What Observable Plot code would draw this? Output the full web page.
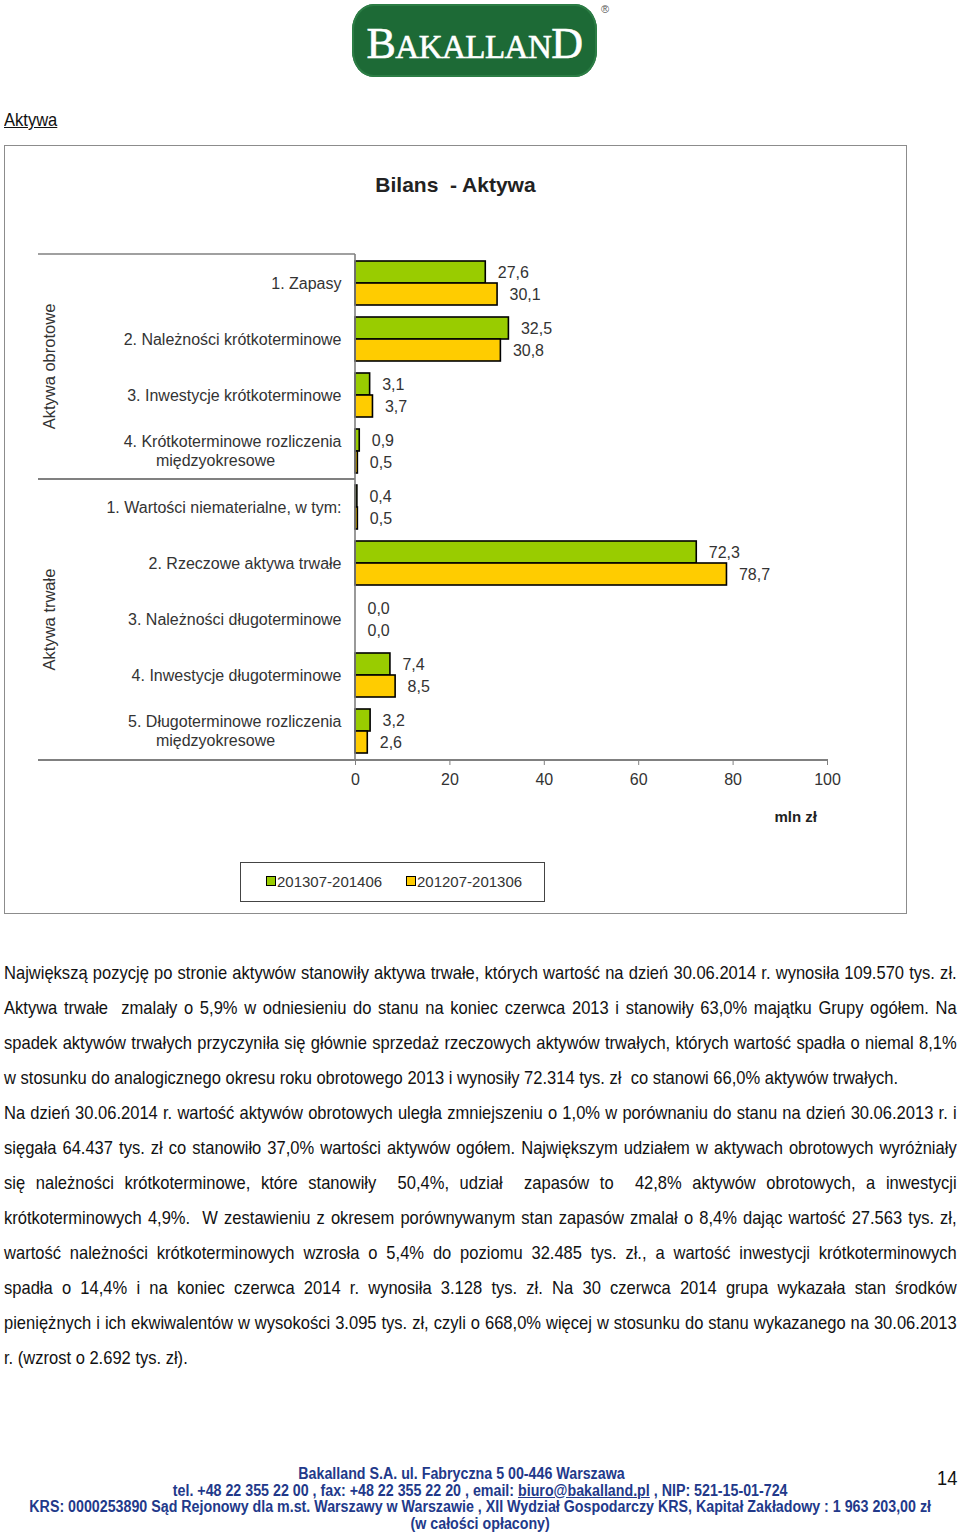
<!DOCTYPE html>
<html>
<head>
<meta charset="utf-8">
<script src="https://cdn.jsdelivr.net/npm/d3@7"></script>
<script src="https://cdn.jsdelivr.net/npm/@observablehq/plot@0.6"></script>
<style>
  body { margin: 0; background: #fff; }
  #page { position: relative; width: 960px; height: 1539px; overflow: hidden; font-family: "Liberation Sans", Arial, sans-serif; color: #111; }
  #logo { position: absolute; left: 352px; top: 4px; width: 245px; height: 73px; background: #1d6a36; border-radius: 22px / 26px; box-shadow: inset 0 0 0 2px #2c7d45; }
  #logo .word { position: absolute; left: 0; right: 0; top: 14px; text-align: center; color: #fff; font-family: "Liberation Serif", "DejaVu Serif", serif; white-space: nowrap; letter-spacing: -0.5px; -webkit-text-stroke: 0.6px #fff; }
  #logo .big { font-size: 44px; }
  #logo .small { font-size: 33px; }
  #reg { position: absolute; left: 601px; top: 3px; font-size: 11px; color: #555; }
  .narrow { transform: scaleX(0.87); transform-origin: 0 0; }
  #heading { position: absolute; left: 4px; top: 109px; font-size: 19px; text-decoration: underline; color: #111; }
  #panel { position: absolute; left: 4px; top: 145px; width: 901px; height: 767px; border: 1px solid #8c8c8c; }
  #ctitle { position: absolute; left: 0; right: 0; top: 27px; text-align: center; font-weight: bold; font-size: 21px; color: #222; white-space: pre; }
  #chart { position: absolute; left: 0px; top: 84px; }
  #legend { position: absolute; left: 235px; top: 716px; width: 303px; height: 38px; border: 1px solid #444; font-size: 15px; color: #333; }
  #legend .item { position: absolute; top: 10px; white-space: nowrap; }
  #legend .sw { display: inline-block; width: 8px; height: 8px; border: 1px solid #000; margin-right: 1px; vertical-align: 1px; }
  #body { position: absolute; left: 4px; top: 955px; width: 1095px; font-size: 19px; color: #111; }
  #body .ln { height: 35px; line-height: 35px; white-space: nowrap; }
  #body .j { text-align: justify; text-align-last: justify; }
  #footer { position: absolute; left: 0; width: 1079px; top: 1466px; text-align: center; font-weight: bold; font-size: 16px; line-height: 16.6px; color: #22398a; transform: scaleX(0.89); transform-origin: 0 0; }
  #pnum { position: absolute; left: 937px; top: 1466px; font-size: 21px; color: #111; }
</style>
</head>
<body>
<div id="page">
  <div id="logo"><div class="word"><span class="big">B</span><span class="small">AKALLAN</span><span class="big">D</span></div></div>
  <div id="reg">®</div>
  <div id="heading" class="narrow">Aktywa</div>
  <div id="panel">
    <div id="ctitle">Bilans  - Aktywa</div>
    <div id="chart"></div>
    <div id="legend"></div>
  </div>
  <div id="body" class="narrow">
    <div class="ln j">Największą pozycję po stronie aktywów stanowiły aktywa trwałe, których wartość na dzień 30.06.2014 r. wynosiła 109.570 tys. zł.</div>
    <div class="ln j">Aktywa trwałe&nbsp; zmalały o 5,9% w odniesieniu do stanu na koniec czerwca 2013 i stanowiły 63,0% majątku Grupy ogółem. Na</div>
    <div class="ln j">spadek aktywów trwałych przyczyniła się głównie sprzedaż rzeczowych aktywów trwałych, których wartość spadła o niemal 8,1%</div>
    <div class="ln">w stosunku do analogicznego okresu roku obrotowego 2013 i wynosiły 72.314 tys. zł&nbsp; co stanowi 66,0% aktywów trwałych.</div>
    <div class="ln j">Na dzień 30.06.2014 r. wartość aktywów obrotowych uległa zmniejszeniu o 1,0% w porównaniu do stanu na dzień 30.06.2013 r. i</div>
    <div class="ln j">sięgała 64.437 tys. zł co stanowiło 37,0% wartości aktywów ogółem. Największym udziałem w aktywach obrotowych wyróżniały</div>
    <div class="ln j">się należności krótkoterminowe, które stanowiły&nbsp; 50,4%, udział&nbsp; zapasów to&nbsp; 42,8% aktywów obrotowych, a inwestycji</div>
    <div class="ln j">krótkoterminowych 4,9%.&nbsp; W zestawieniu z okresem porównywanym stan zapasów zmalał o 8,4% dając wartość 27.563 tys. zł,</div>
    <div class="ln j">wartość należności krótkoterminowych wzrosła o 5,4% do poziomu 32.485 tys. zł., a wartość inwestycji krótkoterminowych</div>
    <div class="ln j">spadła o 14,4% i na koniec czerwca 2014 r. wynosiła 3.128 tys. zł. Na 30 czerwca 2014 grupa wykazała stan środków</div>
    <div class="ln j">pieniężnych i ich ekwiwalentów w wysokości 3.095 tys. zł, czyli o 668,0% więcej w stosunku do stanu wykazanego na 30.06.2013</div>
    <div class="ln">r. (wzrost o 2.692 tys. zł).</div>
  </div>
  <div id="footer">
    <div style="padding-right:42px">Bakalland S.A. ul. Fabryczna 5 00-446 Warszawa</div>
    <div>tel. +48 22 355 22 00 , fax: +48 22 355 22 20 , email: <u>biuro@bakalland.pl</u> , NIP: 521-15-01-724</div>
    <div>KRS: 0000253890 Sąd Rejonowy dla m.st. Warszawy w Warszawie , XII Wydział Gospodarczy KRS, Kapitał Zakładowy : 1 963 203,00 zł</div>
    <div>(w całości opłacony)</div>
  </div>
  <div id="pnum" class="narrow">14</div>
</div>
<script>
// ---- data ----
const groups = ["Aktywa obrotowe", "Aktywa trwałe"];
const categories = [
  "1. Zapasy",
  "2. Należności krótkoterminowe",
  "3. Inwestycje krótkoterminowe",
  "4. Krótkoterminowe rozliczenia\nmiędzyokresowe",
  "1. Wartości niematerialne, w tym:",
  "2. Rzeczowe aktywa trwałe",
  "3. Należności długoterminowe",
  "4. Inwestycje długoterminowe",
  "5. Długoterminowe rozliczenia\nmiędzyokresowe"
];
const categoryGroup = [0, 0, 0, 0, 1, 1, 1, 1, 1];
const series = ["201307-201406", "201207-201306"];
const valuesCurrent = [27.6, 32.5, 3.1, 0.9, 0.4, 72.3, 0.0, 7.4, 3.2];
const valuesPrevious = [30.1, 30.8, 3.7, 0.5, 0.5, 78.7, 0.0, 8.5, 2.6];
const seriesColors = ["#99cc00", "#ffcc00"];
const xTicks = [0, 20, 40, 60, 80, 100];
const xUnit = "mln zł";

// ---- build ----
const rows = [];
categories.forEach((c, i) => {
  rows.push({cat: c, s: series[0], v: valuesCurrent[i]});
  rows.push({cat: c, s: series[1], v: valuesPrevious[i]});
});
const labelRows = categories.map(c => { const [l1, l2] = c.split("\n"); return {cat: c, l1, l2}; });
const fmt = v => v.toFixed(1).replace(".", ",");
const font = "'Liberation Sans', Arial, sans-serif";
const fs = 16;

const chart = Plot.plot({
  width: 900, height: 610,
  marginLeft: 350, marginRight: 78, marginTop: 24, marginBottom: 80,
  style: {fontFamily: font, fontSize: fs + "px", color: "#333", background: "transparent", overflow: "visible"},
  x: {domain: [0, 100]},
  y: {domain: series, padding: 0, axis: null},
  fy: {domain: categories, paddingInner: 0.22, paddingOuter: 0.11, axis: null},
  color: {domain: series, range: seriesColors},
  marks: [
    Plot.barX(rows, {fy: "cat", y: "s", x: "v", fill: "s", stroke: "#000", strokeWidth: 1.6}),
    Plot.text(rows, {fy: "cat", y: "s", x: "v", text: d => fmt(d.v), dx: 12, textAnchor: "start", fill: "#333", fontSize: fs}),
    Plot.text(labelRows.filter(d => !d.l2), {fy: "cat", text: "l1", frameAnchor: "left", dx: -14, textAnchor: "end", fill: "#333", fontSize: fs}),
    Plot.text(labelRows.filter(d => d.l2), {fy: "cat", text: "l1", frameAnchor: "left", dx: -14, dy: -10, textAnchor: "end", fill: "#333", fontSize: fs}),
    Plot.text(labelRows.filter(d => d.l2), {fy: "cat", text: "l2", frameAnchor: "left", dx: -140, dy: 9, textAnchor: "middle", fill: "#333", fontSize: fs}),
    Plot.axisX({ticks: xTicks, tickSize: 6, tickPadding: 8, dy: 6, stroke: "#808080", fill: "#333", fontSize: fs, label: null})
  ]
});
document.getElementById("chart").appendChild(chart);

// ---- structural lines, group labels and unit, from Plot's scales ----
const svg = d3.select(chart);
const fyS = chart.scale("fy"), xS = chart.scale("x");
const yTop = fyS.range[0], yBottom = fyS.range[1];
const bw = fyS.bandwidth;
const lastOf0 = categories[categoryGroup.lastIndexOf(0)];
const firstOf1 = categories[categoryGroup.indexOf(1)];
const yMid = (fyS.apply(lastOf0) + bw + fyS.apply(firstOf1)) / 2;
const x0 = xS.apply(0), x100 = xS.apply(100), leftX = 33;
const g = svg.append("g").attr("stroke", "#808080").attr("fill", "none");
g.append("line").attr("x1", leftX).attr("x2", x0).attr("y1", yTop).attr("y2", yTop).attr("stroke-width", 1.6);
g.append("line").attr("x1", leftX).attr("x2", x0).attr("y1", yMid).attr("y2", yMid).attr("stroke-width", 2);
g.append("line").attr("x1", leftX).attr("x2", x100).attr("y1", yBottom).attr("y2", yBottom).attr("stroke-width", 2);
g.append("line").attr("x1", x0).attr("x2", x0).attr("y1", yTop).attr("y2", yBottom).attr("stroke-width", 1.6);
const gcent = [(yTop + yMid) / 2, (yMid + yBottom) / 2];
groups.forEach((name, i) => {
  svg.append("text").attr("transform", `translate(44,${gcent[i]}) rotate(-90)`)
    .attr("text-anchor", "middle").attr("dy", "0.35em").attr("fill", "#333")
    .style("font-family", font).style("font-size", "16.5px").text(name);
});
svg.append("text").attr("x", x100 - 10).attr("y", yBottom + 57).attr("dy", "0.35em")
  .attr("text-anchor", "end").attr("fill", "#222").style("font-weight", "bold")
  .style("font-family", font).style("font-size", "15px").text(xUnit);

// ---- legend ----
const lg = document.getElementById("legend");
const legendX = [25, 165];
series.forEach((s, i) => {
  const it = document.createElement("div");
  it.className = "item";
  it.style.left = legendX[i] + "px";
  it.innerHTML = `<span class="sw" style="background:${seriesColors[i]}"></span>${s}`;
  lg.appendChild(it);
});
</script>
</body>
</html>
